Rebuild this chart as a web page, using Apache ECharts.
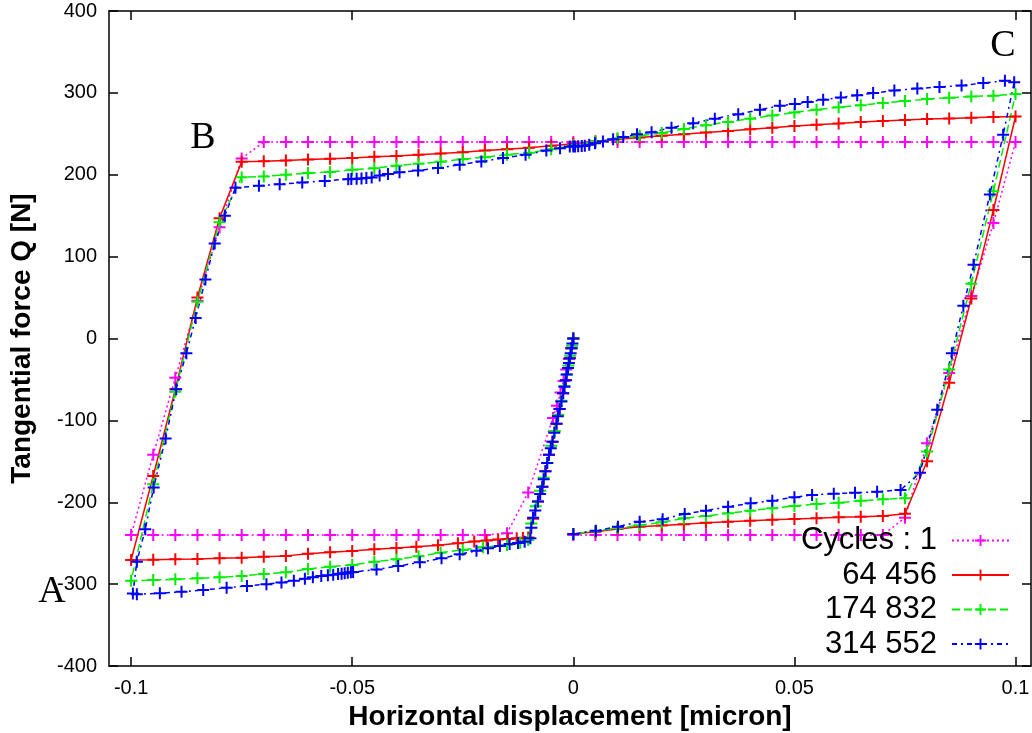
<!DOCTYPE html>
<html>
<head>
<meta charset="utf-8">
<title>Fretting cycles</title>
<script src="https://cdn.jsdelivr.net/npm/echarts@6/dist/echarts.min.js"></script>
<style>
  html, body { margin: 0; padding: 0; background: #fff; }
  #chart { width: 1032px; height: 733px; }
</style>
</head>
<body>
<div id="chart"></div>
<script>
// Hysteresis loops: tangential force vs horizontal displacement, one loop per cycle count.

const seriesNames = ['Cycles : 1', '64 456', '174 832', '314 552'];
const xTickValues = [-0.1, -0.05, 0, 0.05, 0.1];
const yTickValues = [-400, -300, -200, -100, 0, 100, 200, 300, 400];

// Cycle 1
const cycle1X = [0, -0.0005, -0.001, -0.0016, -0.0022, -0.0029, -0.0037, -0.0046, -0.0102, -0.015,
  -0.02, -0.025, -0.03, -0.035, -0.04, -0.045, -0.05, -0.055, -0.06, -0.065, -0.07, -0.075, -0.08, -0.085, -0.09, -0.095, -0.1,
  -0.095, -0.09, -0.085, -0.08, -0.075,
  -0.07, -0.065, -0.06, -0.055, -0.05, -0.045, -0.04, -0.035, -0.03, -0.025, -0.02, -0.015, -0.01, -0.005, 0,
  0.005, 0.01, 0.015, 0.02, 0.025, 0.03, 0.035, 0.04, 0.045, 0.05, 0.055, 0.06, 0.065, 0.07, 0.075, 0.08, 0.085, 0.09, 0.095, 0.1,
  0.095, 0.09, 0.085, 0.08, 0.075,
  0.07, 0.065, 0.06, 0.055, 0.05, 0.045, 0.04, 0.035, 0.03, 0.025, 0.02, 0.015, 0.01, 0.005, 0];
const cycle1Y = [0, -12, -25, -38, -52, -66, -82, -97, -188, -238,
  -240, -240, -240, -240, -240, -240, -240, -240, -240, -240, -240, -240, -240, -240, -240, -240, -240,
  -142, -48, 46, 136, 220,
  240, 240, 240, 240, 240, 240, 240, 240, 240, 240, 240, 240, 240, 240, 240,
  240, 240, 240, 240, 240, 240, 240, 240, 240, 240, 240, 240, 240, 240, 240, 240, 240, 240, 240, 240,
  141, 52, -42, -128, -219,
  -240, -240, -240, -240, -240, -240, -240, -240, -240, -240, -240, -240, -240, -240, -240];

// Cycle 64 456
const cycle2X = [0, -0.0004, -0.0008, -0.0012, -0.0017, -0.0023, -0.0031, -0.0038, -0.0047, -0.0055, -0.0063, -0.007, -0.008, -0.0091, -0.0102,
  -0.0114, -0.0128, -0.0148, -0.017, -0.0196, -0.0224, -0.0261, -0.0306, -0.0355, -0.04, -0.045, -0.05, -0.055, -0.06, -0.065, -0.07, -0.075, -0.08, -0.085, -0.09, -0.095, -0.1,
  -0.095, -0.09, -0.085, -0.08, -0.075,
  -0.07, -0.065, -0.06, -0.055, -0.05, -0.045, -0.04, -0.035, -0.03, -0.025, -0.02, -0.015, -0.01, -0.005, 0,
  0.005, 0.01, 0.015, 0.02, 0.025, 0.03, 0.035, 0.04, 0.045, 0.05, 0.055, 0.06, 0.065, 0.07, 0.075, 0.08, 0.085, 0.09, 0.095, 0.1,
  0.095, 0.09, 0.085, 0.08, 0.075,
  0.07, 0.065, 0.06, 0.055, 0.05, 0.045, 0.04, 0.035, 0.03, 0.025, 0.02, 0.015, 0.01, 0.005, 0];
const cycle2Y = [0, -12, -24, -36, -51, -67, -86, -104, -126, -142, -162, -181, -199, -220, -243,
  -243.5, -244, -244.8, -245.5, -246.8, -248, -250, -252.5, -254.5, -256, -257.5, -259.5, -261, -263, -265.5, -266.5, -267.8, -268.5, -269.3, -269.7, -270.3, -270.5,
  -168, -62, 50, 147, 216,
  216.5, 217.5, 218.5, 219.5, 220.5, 222, 223, 224.5, 226, 227.5, 229.5, 231, 233, 235.5, 238,
  241, 243.5, 245.5, 247.5, 249.5, 251.5, 253.5, 255.5, 257.5, 259.5, 261, 262.5, 264.5, 265.8, 267, 268, 268.8, 269.6, 270.4, 271.2,
  157, 49, -54, -150, -214,
  -216.7, -217.6, -218.3, -219.6, -220.4, -221.3, -222.5, -223.7, -224.9, -226.9, -228.5, -229.8, -232.6, -235.9, -238.8];

// Cycle 174 832
const cycle3X = [0, -0.0003, -0.0007, -0.0011, -0.0015, -0.002, -0.0027, -0.0034, -0.0042, -0.005, -0.0059, -0.0067, -0.0075, -0.0085, -0.0095, -0.0102,
  -0.012, -0.015, -0.0204, -0.025, -0.03, -0.035, -0.04, -0.045, -0.05, -0.055, -0.06, -0.065, -0.07, -0.075, -0.08, -0.085, -0.09, -0.095, -0.1,
  -0.095, -0.09, -0.085, -0.08, -0.075,
  -0.07, -0.065, -0.06, -0.055, -0.05, -0.045, -0.04, -0.035, -0.03, -0.025, -0.02, -0.015, -0.01, -0.005, 0,
  0.005, 0.01, 0.015, 0.02, 0.025, 0.03, 0.035, 0.04, 0.045, 0.05, 0.055, 0.06, 0.065, 0.07, 0.075, 0.08, 0.085, 0.09, 0.095, 0.1,
  0.095, 0.09, 0.085, 0.08, 0.075,
  0.07, 0.065, 0.06, 0.055, 0.05, 0.045, 0.04, 0.035, 0.03, 0.025, 0.02, 0.015, 0.01, 0.005, 0];
const cycle3Y = [0, -9, -21, -33, -44, -58, -76, -93, -113, -131, -152, -170, -186, -205, -226, -246,
  -249.4, -252.2, -255, -258.3, -261.6, -266, -269.7, -272.6, -276.6, -278.7, -281.5, -285.6, -287.6, -290.1, -291.7, -292.9, -294.1, -295, -295.8,
  -178, -65, 45, 142, 197,
  198, 200, 202, 203.5, 206, 208, 211, 213.5, 216, 219, 221.5, 224.5, 227, 231, 236,
  240.5, 244.5, 247.5, 251, 256, 260.5, 264.5, 268.5, 272.5, 276, 279.5, 282.5, 285, 287.5, 290, 292.5, 294, 295.6, 296.5, 298.5,
  180, 67, -38, -138, -195,
  -196.4, -198.1, -200.5, -202.1, -204.5, -207.4, -210.3, -213.5, -216.8, -219.6, -224.5, -228, -231.8, -235.1, -238.8];

// Cycle 314 552
const cycle4X = [0, -0.0002, -0.0004, -0.0006, -0.0008, -0.001, -0.0012, -0.0015, -0.0017, -0.002, -0.0023, -0.0027, -0.0031, -0.0035, -0.0038,
  -0.0043, -0.0047, -0.0051, -0.0055, -0.0059, -0.0063, -0.0067, -0.007, -0.0075, -0.008, -0.0086, -0.0091, -0.0095, -0.0097,
  -0.011, -0.0125, -0.0144, -0.0166, -0.0193, -0.0219, -0.0257, -0.0298, -0.0347, -0.0396, -0.0445, -0.0498, -0.0503, -0.051, -0.0517, -0.0524,
  -0.0532, -0.0543, -0.0555, -0.057, -0.0589, -0.0607, -0.0632, -0.066, -0.0694, -0.0738, -0.0784, -0.0837, -0.0886, -0.0935, -0.0987, -0.0996,
  -0.0987, -0.0968, -0.0949, -0.0922, -0.0898, -0.0875, -0.0854, -0.0832, -0.0811, -0.0788, -0.0764,
  -0.0711, -0.0664, -0.0613, -0.0562, -0.0509, -0.0502, -0.049, -0.0479, -0.0468, -0.0456, -0.0438, -0.0419, -0.0393, -0.0351, -0.0306, -0.0257,
  -0.0208, -0.0159, -0.0108, -0.0061, -0.003, -0.0008, 0, 0.0004, 0.0011, 0.0019, 0.0026, 0.0036, 0.0049, 0.0067, 0.009, 0.0113, 0.0144, 0.0177,
  0.0222, 0.0271, 0.032, 0.0373, 0.0422, 0.0467, 0.0501, 0.053, 0.0565, 0.0605, 0.0642, 0.0678, 0.0726, 0.0778, 0.0828, 0.0878, 0.0927, 0.0976, 0.0997,
  0.0972, 0.0942, 0.0905, 0.0882, 0.0856, 0.0823, 0.0784, 0.074,
  0.0687, 0.0637, 0.0589, 0.054, 0.05, 0.045, 0.0401, 0.035, 0.03, 0.0252, 0.0202, 0.015, 0.0101, 0.0051, 0];
const cycle4Y = [0, -6, -12, -18, -24, -30, -36, -44, -51, -59, -67, -77, -86, -95, -104,
  -115, -126, -134, -142, -152, -162, -172, -181, -190, -199, -210, -219, -231, -244,
  -248.2, -249.8, -251, -253.4, -256.3, -259.2, -263.6, -268.5, -273.4, -277.9, -282, -285.2, -285.5, -286, -286.8, -287.3,
  -287.6, -288.5, -289.2, -290, -291.7, -293.4, -295.8, -298, -300, -302.3, -304.4, -307.2, -309.3, -311.2, -312.3, -311.5,
  -272.6, -233, -182, -122, -62, -18, 25, 72, 116, 150, 184,
  186.5, 188.5, 190.5, 192.5, 194.6, 194.8, 195, 195.4, 195.9, 196.6, 199, 201, 203, 205.2, 208.1, 212.2,
  216.2, 220.4, 224.4, 229.6, 232.5, 234.5, 234.5, 234.6, 234.8, 235, 235.5, 236.6, 238.6, 240.7, 243.5, 246, 249.6, 252,
  257.5, 263, 268.5, 274, 279.5, 284.2, 286.5, 289, 291.5, 294.5, 297, 299.7, 302.9, 305.4, 307.1, 309.1, 312, 314.8, 313,
  248.8, 176, 90, 40, -18, -87, -164, -185,
  -187.1, -188.5, -189.5, -191.1, -193.9, -198.1, -201.2, -205.4, -210.3, -214.3, -220.8, -223.7, -229.8, -234.7, -238.8];

// "+" marker drawn as a filled cross
const PLUS = 'path://M5,0H7V5H12V7H7V12H5V7H0V5H5Z';
const SANS = "'Liberation Sans', Arial, Helvetica, sans-serif";
const SERIF = "'Liberation Serif', 'Times New Roman', serif";

function pairs(xs, ys) {
  const n = Math.min(xs.length, ys.length);
  const out = [];
  for (let i = 0; i < n; i++) out.push([xs[i], ys[i]]);
  return out;
}

function loopSeries(name, xs, ys, color, dash) {
  return {
    name: name,
    type: 'line',
    data: pairs(xs, ys),
    symbol: PLUS,
    symbolSize: 12,
    showAllSymbol: true,
    clip: false,
    lineStyle: { color: color, width: 1.5, type: dash },
    itemStyle: { color: color },
    emphasis: { disabled: true },
    animation: false
  };
}

const chart = echarts.init(document.getElementById('chart'), null, { renderer: 'canvas' });

const axisLineStyle = { color: '#000', width: 1.5 };
const tickStyle = { inside: true, length: 9, lineStyle: { color: '#000', width: 1.5 } };

chart.setOption({
  animation: false,
  backgroundColor: '#fff',
  grid: { left: 109, right: 1, top: 11, bottom: 67, outerBoundsMode: 'none', containLabel: false },
  xAxis: [
    {
      type: 'value', position: 'bottom', min: -0.105, max: 0.1035,
      axisLine: { show: true, onZero: false, lineStyle: axisLineStyle },
      axisTick: Object.assign({ customValues: xTickValues }, tickStyle),
      axisLabel: {
        customValues: xTickValues, margin: 12, color: '#000', fontSize: 20, fontFamily: SANS,
        formatter: function (v) { return String(v); }
      },
      splitLine: { show: false },
      name: 'Horizontal displacement [micron]',
      nameLocation: 'middle', nameGap: 34,
      nameTextStyle: { color: '#000', fontSize: 28, fontWeight: 'bold', fontFamily: SANS }
    },
    {
      type: 'value', position: 'top', min: -0.105, max: 0.1035,
      axisLine: { show: true, onZero: false, lineStyle: axisLineStyle },
      axisTick: Object.assign({ customValues: xTickValues }, tickStyle),
      axisLabel: { show: false, customValues: xTickValues },
      splitLine: { show: false }
    }
  ],
  yAxis: [
    {
      type: 'value', position: 'left', min: -400, max: 400, interval: 100,
      axisLine: { show: true, onZero: false, lineStyle: axisLineStyle },
      axisTick: tickStyle,
      axisLabel: { margin: 12, color: '#000', fontSize: 20, fontFamily: SANS },
      splitLine: { show: false },
      name: 'Tangential force Q [N]',
      nameLocation: 'middle', nameGap: 73,
      nameTextStyle: { color: '#000', fontSize: 28, fontWeight: 'bold', fontFamily: SANS }
    },
    {
      type: 'value', position: 'right', min: -400, max: 400, interval: 100,
      axisLine: { show: true, onZero: false, lineStyle: axisLineStyle },
      axisTick: tickStyle,
      axisLabel: { show: false },
      splitLine: { show: false }
    }
  ],
  legend: {
    data: seriesNames,
    orient: 'vertical',
    align: 'right',
    right: 22,
    top: 525,
    padding: 0,
    itemGap: 3.5,
    itemWidth: 57,
    itemHeight: 14,
    selectedMode: false,
    textStyle: { color: '#000', fontSize: 31, lineHeight: 31, fontFamily: SANS, padding: [0, 10, 0, 0] }
  },
  series: [
    loopSeries(seriesNames[0], cycle1X, cycle1Y, '#ff00ff', [2, 3]),
    loopSeries(seriesNames[1], cycle2X, cycle2Y, '#ff0000', 'solid'),
    loopSeries(seriesNames[2], cycle3X, cycle3Y, '#00ee00', [8, 4]),
    loopSeries(seriesNames[3], cycle4X, cycle4Y, '#0000ff', [5, 4, 2, 4])
  ],
  graphic: [
    { type: 'text', x: 52, y: 592, style: { text: 'A', font: '38px ' + SERIF, fill: '#000', align: 'center', verticalAlign: 'middle' } },
    { type: 'text', x: 203, y: 138, style: { text: 'B', font: '38px ' + SERIF, fill: '#000', align: 'center', verticalAlign: 'middle' } },
    { type: 'text', x: 1003, y: 46, style: { text: 'C', font: '38px ' + SERIF, fill: '#000', align: 'center', verticalAlign: 'middle' } }
  ]
});
</script>
</body>
</html>
